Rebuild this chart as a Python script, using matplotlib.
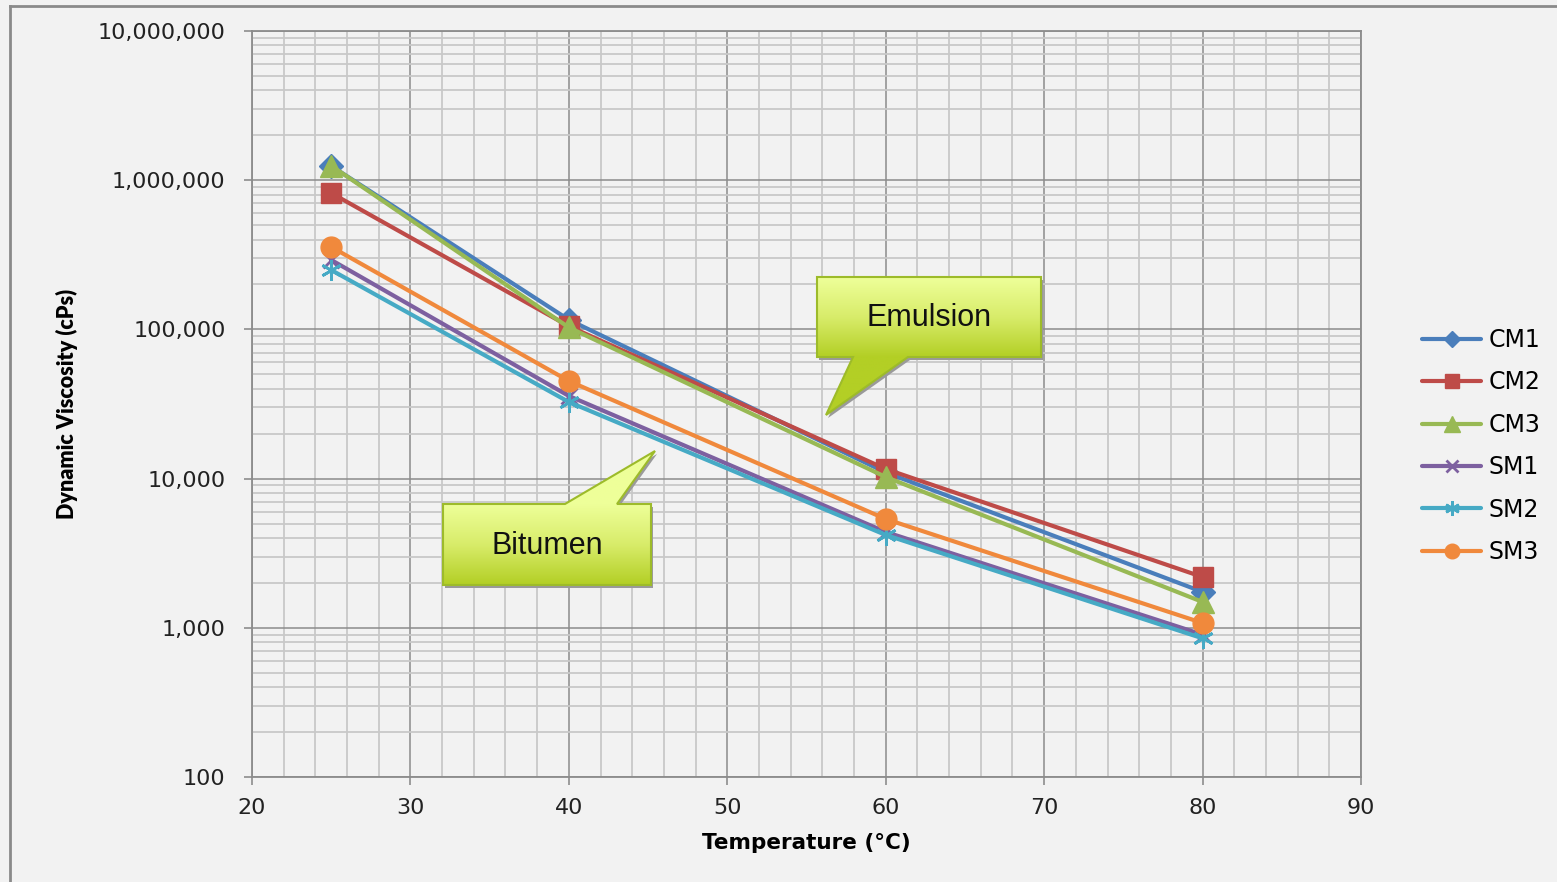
import numpy as np
import matplotlib
matplotlib.use("Agg")
import matplotlib.pyplot as plt
from matplotlib.ticker import FuncFormatter, LogLocator, MultipleLocator
from matplotlib.patches import Polygon

# Data
temps = [25, 40, 60, 80]
series_names = ["CM1", "CM2", "CM3", "SM1", "SM2", "SM3"]
cm1 = [1245000, 116000, 11000, 1740]
cm2 = [820000, 105000, 11600, 2190]
cm3 = [1250000, 103000, 10250, 1490]
sm1 = [292000, 35800, 4390, 900]
sm2 = [250000, 32600, 4190, 850]
sm3 = [357000, 45100, 5360, 1077]
values = [cm1, cm2, cm3, sm1, sm2, sm3]

colors = ["#4A7EBB", "#BE4B48", "#98B954", "#7D60A0", "#46AAC5", "#F0893C"]
markers = ["D", "s", "^", "x", (6, 2, 0), "o"]
msizes = [12, 15, 16, 12, 15, 15]

W, H = 1557, 882
bg = "#F2F2F2"

fig = plt.figure(figsize=(W / 100, H / 100), dpi=100, facecolor=bg)
ax = fig.add_axes([252 / W, 1 - 777 / H, (1361 - 252) / W, (777 - 31) / H])
ax.set_facecolor(bg)

for name, vals, c, m, ms in zip(series_names, values, colors, markers, msizes):
    ax.plot(temps, vals, color=c, lw=3, marker=m, markersize=ms,
            markeredgewidth=2 if m in ("x", (6, 2, 0)) else 1,
            markeredgecolor=c, label=name, solid_capstyle="round", zorder=3)

ax.set_yscale("log")
ax.set_xlim(20, 90)
ax.set_ylim(100, 10000000)

ax.xaxis.set_major_locator(MultipleLocator(10))
ax.xaxis.set_minor_locator(MultipleLocator(2))
ax.yaxis.set_major_locator(LogLocator(base=10))
ax.yaxis.set_minor_locator(LogLocator(base=10, subs=np.arange(2, 10)))
ax.yaxis.set_major_formatter(FuncFormatter(lambda v, p: f"{int(round(v)):,}"))
ax.yaxis.set_minor_formatter(FuncFormatter(lambda v, p: ""))

ax.grid(which="major", color="#8C8C8C", lw=1.1, zorder=0)
ax.grid(which="minor", color="#C8C8C8", lw=1.3, zorder=0)
ax.set_axisbelow(True)

for s in ax.spines.values():
    s.set_color("#8C8C8C")
    s.set_linewidth(1.3)

ax.tick_params(which="major", length=6, width=1.2, color="#8C8C8C",
               labelsize=16, labelcolor="#222222")
ax.tick_params(axis="y", which="major", pad=13)
ax.tick_params(axis="x", which="major", pad=9)
ax.tick_params(which="minor", length=0)

ax.set_xlabel("Temperature (°C)", fontsize=15.5, fontweight="bold", labelpad=11)
ax.set_ylabel("Dynamic Viscosity (cPs)",
              fontsize=15.5, fontweight="heavy", labelpad=14,
              family=["Lato", "DejaVu Sans"])

leg = fig.legend(loc="center left", bbox_to_anchor=(1401 / W, 1 - 446 / H),
                 frameon=False, fontsize=17, handlelength=2.5,
                 handletextpad=0.3, labelspacing=0.78, markerscale=0.7)

# overlay for frame and callouts, in pixel coordinates
ov = fig.add_axes([0, 0, 1, 1], zorder=10)
ov.set_xlim(0, W)
ov.set_ylim(H, 0)
ov.axis("off")
ov.patch.set_alpha(0)

ov.plot([10, 10], [6, H], color="#8A8A8A", lw=2)
ov.plot([10, W], [6, 6], color="#8A8A8A", lw=2)

cmap = matplotlib.colors.LinearSegmentedColormap.from_list(
    "callout", ["#EEFF99", "#D8EC6A", "#B3CF25"])


def callout(box, tail, text):
    x0, y0, x1, y1 = box
    tx, ty = tail["tip"]
    if ty > y1:
        pts = [(x0, y0), (x1, y0), (x1, y1), (tail["b2"], y1),
               (tx, ty), (tail["b1"], y1), (x0, y1)]
    else:
        pts = [(x0, y0), (tail["b1"], y0), (tx, ty), (tail["b2"], y0),
               (x1, y0), (x1, y1), (x0, y1)]
    xs = [p[0] for p in pts]
    ys = [p[1] for p in pts]
    ymin, ymax = min(ys), max(ys)
    yy = np.linspace(ymin, ymax, 200)
    grad = np.clip((yy - y0) / (y1 - y0), 0, 1).reshape(-1, 1)

    shadow = Polygon([(px + 2, py + 3) for px, py in pts], closed=True,
                     facecolor="#9A9A9A", edgecolor="none", zorder=1)
    ov.add_patch(shadow)
    poly = Polygon(pts, closed=True, facecolor="none",
                   edgecolor="#9DBB2A", lw=1.5, zorder=3)
    ov.add_patch(poly)
    im = ov.imshow(grad, cmap=cmap, vmin=0, vmax=1, aspect="auto",
                   origin="upper",
                   extent=(min(xs), max(xs), ymax, ymin), zorder=2)
    im.set_clip_path(poly)
    ov.text((x0 + x1) / 2, (y0 + y1) / 2 + 1, text, ha="center", va="center",
            fontsize=22, color="#111111", zorder=4,
            family=["Liberation Sans", "DejaVu Sans"])


callout((817, 277, 1041, 357),
        {"b1": 853, "b2": 908, "tip": (826, 415)}, "Emulsion")
callout((443, 504, 651, 585),
        {"b1": 565, "b2": 617, "tip": (655, 451)}, "Bitumen")

ov.set_xlim(0, W)
ov.set_ylim(H, 0)

fig.savefig("out.png", dpi=100, facecolor=bg)
